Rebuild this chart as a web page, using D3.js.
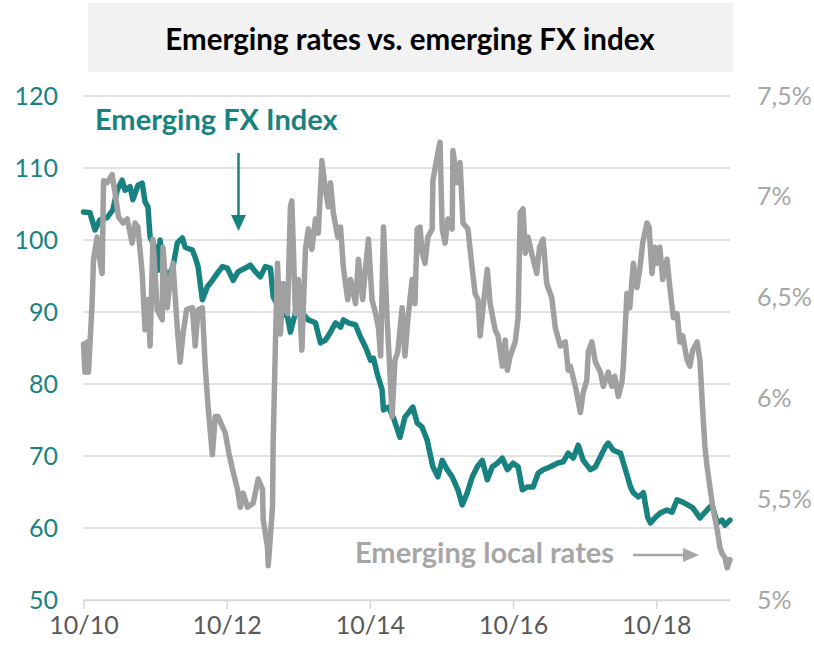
<!DOCTYPE html>
<head>
  <meta charset="utf-8">
  <style>
  body { margin: 0; background: #fff; }
  * { font-family: Lato, "Open Sans", sans-serif; }
  .grid line { stroke: #d9d9d9; stroke-width: 1.5px; }
  .line { fill: none; stroke-width: 5.5px; stroke-linejoin: round; stroke-linecap: round; }
  </style>
  <title>Emerging rates vs. emerging FX index</title>
</head>
<body>
  <svg width="814" height="653"></svg>
  <script src="https://cdn.jsdelivr.net/npm/d3@7"></script>
  <script>
  // x values are decimal years (2010.75 = Oct 2010)
  var fxIndex = [
    [2010.75,103.9],[2010.84,103.8],[2010.91,101.4],[2010.98,102.8],[2011.08,103.1],[2011.16,104.2],
    [2011.22,106.9],[2011.29,108.3],[2011.33,106.9],[2011.40,107.4],[2011.44,105.6],[2011.51,107.6],
    [2011.57,107.9],[2011.61,105.3],[2011.65,104.6],[2011.68,100.4],[2011.75,99.0],[2011.79,95.8],
    [2011.82,100.0],[2011.86,96.3],[2011.93,94.9],[2012.00,96.3],[2012.06,99.6],[2012.13,100.3],
    [2012.17,99.0],[2012.27,98.6],[2012.31,97.6],[2012.35,96.3],[2012.41,91.7],[2012.48,93.5],
    [2012.55,94.4],[2012.62,95.4],[2012.69,96.3],[2012.76,96.1],[2012.84,94.4],[2012.91,95.6],
    [2013.01,96.1],[2013.08,96.5],[2013.15,95.6],[2013.22,94.9],[2013.29,96.3],[2013.36,96.1],
    [2013.40,92.1],[2013.50,90.3],[2013.60,89.3],[2013.64,87.2],[2013.71,89.9],[2013.80,89.9],
    [2013.89,88.9],[2013.99,88.5],[2014.06,85.7],[2014.13,86.1],[2014.20,87.2],[2014.27,88.5],
    [2014.34,87.9],[2014.38,88.9],[2014.45,88.5],[2014.55,88.2],[2014.62,86.5],[2014.69,85.1],
    [2014.76,83.3],[2014.80,83.6],[2014.85,81.5],[2014.92,79.2],[2014.94,76.4],[2015.01,76.8],
    [2015.08,75.3],[2015.17,72.6],[2015.24,75.4],[2015.35,76.8],[2015.41,74.6],[2015.48,74.0],
    [2015.55,72.2],[2015.63,68.5],[2015.70,67.1],[2015.76,69.4],[2015.83,68.1],[2015.90,67.1],
    [2015.98,65.3],[2016.04,63.2],[2016.11,64.9],[2016.18,67.1],[2016.25,68.5],[2016.32,69.4],
    [2016.39,66.7],[2016.46,68.5],[2016.53,69.0],[2016.60,69.7],[2016.67,68.1],[2016.75,69.0],
    [2016.82,68.5],[2016.88,65.3],[2016.95,65.7],[2017.03,65.7],[2017.10,67.6],[2017.17,68.1],
    [2017.27,68.5],[2017.37,69.0],[2017.45,69.2],[2017.52,70.4],[2017.59,69.7],[2017.66,71.5],
    [2017.73,69.4],[2017.83,68.1],[2017.90,68.5],[2017.97,69.9],[2018.04,71.3],[2018.08,71.8],
    [2018.15,70.8],[2018.25,70.4],[2018.32,68.1],[2018.39,65.7],[2018.43,64.9],[2018.50,64.3],
    [2018.57,64.9],[2018.63,61.5],[2018.67,60.7],[2018.74,61.5],[2018.81,62.1],[2018.90,62.5],
    [2018.97,62.2],[2019.04,63.9],[2019.12,63.6],[2019.19,63.2],[2019.26,62.8],[2019.36,61.4],
    [2019.46,62.5],[2019.53,63.2],[2019.60,60.7],[2019.67,61.1],[2019.71,60.4],[2019.78,61.1]
  ];

  // local rates, in %
  var localRates = [
    [2010.75,6.27],[2010.77,6.13],[2010.80,6.28],[2010.82,6.13],[2010.87,6.47],[2010.89,6.69],
    [2010.94,6.80],[2010.96,6.72],[2011.01,6.62],[2011.03,7.08],[2011.08,7.07],[2011.15,7.11],
    [2011.19,7.02],[2011.24,6.90],[2011.30,6.87],[2011.36,6.89],[2011.43,6.77],[2011.47,6.87],
    [2011.51,6.85],[2011.57,6.62],[2011.61,6.34],[2011.65,6.49],[2011.68,6.26],[2011.72,6.79],
    [2011.78,6.44],[2011.85,6.39],[2011.86,6.75],[2011.92,6.45],[2011.96,6.59],[2012.00,6.67],
    [2012.06,6.35],[2012.10,6.18],[2012.14,6.32],[2012.19,6.44],[2012.27,6.45],[2012.31,6.26],
    [2012.35,6.44],[2012.41,6.45],[2012.45,6.16],[2012.49,5.96],[2012.55,5.72],[2012.59,5.91],
    [2012.63,5.91],[2012.69,5.86],[2012.73,5.83],[2012.78,5.73],[2012.83,5.65],[2012.90,5.55],
    [2012.94,5.46],[2012.98,5.53],[2013.04,5.46],[2013.12,5.48],[2013.19,5.60],[2013.25,5.55],
    [2013.26,5.40],[2013.32,5.26],[2013.33,5.17],[2013.39,5.46],[2013.40,5.79],[2013.43,6.26],
    [2013.46,6.67],[2013.50,6.32],[2013.54,6.57],[2013.60,6.42],[2013.64,6.95],[2013.66,6.98],
    [2013.71,6.42],[2013.75,6.59],[2013.80,6.24],[2013.85,6.74],[2013.89,6.84],[2013.94,6.74],
    [2013.99,6.89],[2014.03,6.82],[2014.08,7.18],[2014.13,7.03],[2014.17,6.95],[2014.20,7.07],
    [2014.24,6.92],[2014.30,6.80],[2014.34,6.85],[2014.38,6.65],[2014.44,6.49],[2014.48,6.59],
    [2014.55,6.47],[2014.59,6.69],[2014.65,6.49],[2014.69,6.65],[2014.73,6.79],[2014.78,6.49],
    [2014.83,6.42],[2014.87,6.35],[2014.90,6.21],[2014.94,6.85],[2014.99,6.40],[2015.03,6.13],
    [2015.06,5.91],[2015.10,6.19],[2015.14,6.23],[2015.20,6.45],[2015.24,6.21],[2015.28,6.39],
    [2015.34,6.59],[2015.38,6.47],[2015.41,6.84],[2015.45,6.85],[2015.48,6.72],[2015.52,6.67],
    [2015.56,6.80],[2015.62,6.84],[2015.63,7.08],[2015.69,7.20],[2015.73,7.27],[2015.76,6.84],
    [2015.80,6.77],[2015.84,6.89],[2015.90,6.84],[2015.91,7.23],[2015.97,7.07],[2016.01,7.17],
    [2016.05,6.87],[2016.12,6.84],[2016.18,6.64],[2016.22,6.52],[2016.26,6.49],[2016.29,6.31],
    [2016.33,6.45],[2016.39,6.64],[2016.43,6.47],[2016.50,6.34],[2016.54,6.31],[2016.60,6.16],
    [2016.64,6.29],[2016.67,6.14],[2016.71,6.21],[2016.78,6.28],[2016.82,6.40],[2016.85,6.92],
    [2016.89,6.94],[2016.92,6.72],[2016.96,6.80],[2017.01,6.72],[2017.08,6.62],[2017.12,6.75],
    [2017.17,6.79],[2017.22,6.57],[2017.29,6.50],[2017.34,6.35],[2017.41,6.26],[2017.48,6.28],
    [2017.52,6.14],[2017.55,6.16],[2017.62,6.06],[2017.69,5.93],[2017.73,6.03],[2017.78,6.09],
    [2017.80,6.23],[2017.85,6.28],[2017.90,6.18],[2017.97,6.13],[2018.01,6.06],[2018.08,6.13],
    [2018.13,6.06],[2018.17,6.11],[2018.22,6.01],[2018.27,6.08],[2018.29,6.16],[2018.34,6.52],
    [2018.38,6.45],[2018.43,6.67],[2018.48,6.55],[2018.52,6.64],[2018.56,6.77],[2018.62,6.87],
    [2018.65,6.85],[2018.69,6.62],[2018.73,6.75],[2018.76,6.67],[2018.80,6.75],[2018.84,6.59],
    [2018.90,6.69],[2018.94,6.55],[2018.99,6.40],[2019.04,6.42],[2019.08,6.28],[2019.12,6.31],
    [2019.18,6.19],[2019.22,6.16],[2019.26,6.24],[2019.32,6.28],[2019.36,6.19],[2019.40,5.93],
    [2019.43,5.76],[2019.46,5.66],[2019.50,5.56],[2019.54,5.46],[2019.60,5.35],[2019.64,5.26],
    [2019.67,5.23],[2019.71,5.21],[2019.74,5.16],[2019.78,5.20]
  ];

  var xTicks = [2010.75, 2012.75, 2014.75, 2016.75, 2018.75];
  var xTickLabels = ["10/10", "10/12", "10/14", "10/16", "10/18"];
  var fxTicks = [50, 60, 70, 80, 90, 100, 110, 120];
  var rateTicks = [5, 5.5, 6, 6.5, 7, 7.5];
  var rateTickLabels = ["5%", "5,5%", "6%", "6,5%", "7%", "7,5%"];

  var teal = "#17827f",
      grey = "#a0a0a0";

  var svg = d3.select("svg");

  var x = d3.scaleLinear().domain([2010.75, 2019.78]).range([83.5, 730]);
  var yFx = d3.scaleLinear().domain([50, 120]).range([600, 96]);
  var yRate = d3.scaleLinear().domain([5, 7.5]).range([600, 96]);

  // title box
  svg.append("rect")
      .attr("x", 88).attr("y", 3)
      .attr("width", 645).attr("height", 69)
      .attr("fill", "#f2f2f2");
  svg.append("text")
      .attr("x", 410).attr("y", 50)
      .attr("text-anchor", "middle")
      .style("font-size", "29.5px")
      .style("font-weight", "bold")
      .attr("fill", "#000")
      .text("Emerging rates vs. emerging FX index");

  // gridlines (left axis)
  svg.append("g")
      .attr("class", "grid")
    .selectAll("line")
    .data(fxTicks)
    .enter().append("line")
      .attr("x1", x.range()[0]).attr("x2", x.range()[1])
      .attr("y1", function(d) { return yFx(d); })
      .attr("y2", function(d) { return yFx(d); });

  // bottom axis
  var xAxis = d3.axisBottom(x)
      .tickValues(xTicks)
      .tickSize(9)
      .tickSizeOuter(0)
      .tickFormat(function(d, i) { return xTickLabels[i]; });
  var gx = svg.append("g")
      .attr("transform", "translate(0,600)")
      .call(xAxis);
  gx.select(".domain").attr("stroke", "#d9d9d9").attr("stroke-width", 1.5);
  gx.selectAll(".tick line").attr("stroke", "#d9d9d9").attr("stroke-width", 1.5);
  gx.selectAll(".tick text")
      .attr("y", 16)
      .attr("fill", "#595959")
      .style("font-size", "25px");

  // left axis
  var gl = svg.append("g")
      .attr("transform", "translate(58,0)")
      .call(d3.axisLeft(yFx).tickValues(fxTicks).tickSize(0).tickPadding(0));
  gl.select(".domain").remove();
  gl.selectAll(".tick text")
      .attr("fill", teal)
      .style("font-size", "25px");

  // right axis
  var gr = svg.append("g")
      .attr("transform", "translate(757,0)")
      .call(d3.axisRight(yRate).tickValues(rateTicks).tickSize(0).tickPadding(0)
        .tickFormat(function(d, i) { return rateTickLabels[i]; }));
  gr.select(".domain").remove();
  gr.selectAll(".tick text")
      .attr("fill", "#a6a6a6")
      .style("font-size", "25px");

  // series
  var rateLine = d3.line()
      .x(function(d) { return x(d[0]); })
      .y(function(d) { return yRate(d[1]); });
  var fxLine = d3.line()
      .x(function(d) { return x(d[0]); })
      .y(function(d) { return yFx(d[1]); });

  svg.append("path")
      .datum(fxIndex)
      .attr("class", "line")
      .attr("stroke", teal)
      .attr("d", fxLine);

  svg.append("path")
      .datum(localRates)
      .attr("class", "line")
      .attr("stroke", grey)
      .attr("d", rateLine);

  // annotations
  svg.append("text")
      .attr("x", 95).attr("y", 130)
      .style("font-size", "29px")
      .style("font-weight", "bold")
      .attr("fill", teal)
      .text("Emerging FX Index");

  svg.append("line")
      .attr("x1", 238.5).attr("x2", 238.5)
      .attr("y1", 153).attr("y2", 217)
      .attr("stroke", teal).attr("stroke-width", 2.5);
  svg.append("path")
      .attr("d", "M231,215 L246,215 L238.5,231 Z")
      .attr("fill", teal);

  svg.append("text")
      .attr("x", 355).attr("y", 563)
      .style("font-size", "29px")
      .style("font-weight", "bold")
      .attr("fill", "#a6a6a6")
      .text("Emerging local rates");

  svg.append("line")
      .attr("x1", 633).attr("x2", 685)
      .attr("y1", 555).attr("y2", 555)
      .attr("stroke", "#a6a6a6").attr("stroke-width", 2.5);
  svg.append("path")
      .attr("d", "M683,548 L699,555 L683,562 Z")
      .attr("fill", "#a6a6a6");
  </script>
</body>
